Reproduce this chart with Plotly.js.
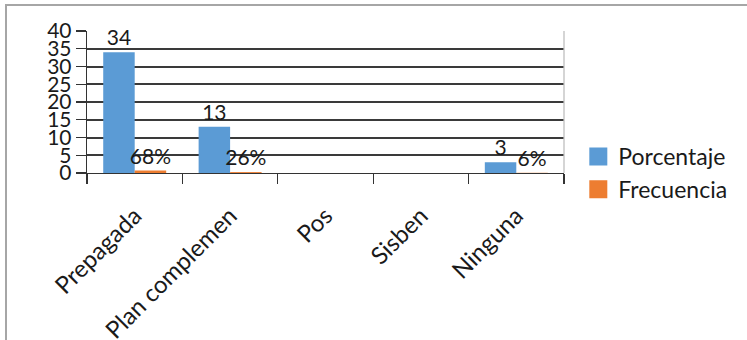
<!DOCTYPE html>
<html>
<head>
<meta charset="utf-8">
<script src="https://cdn.plot.ly/plotly-3.0.1.min.js"></script>
<style>
  html, body { margin: 0; padding: 0; background: #fff; }
  #wrap { position: relative; width: 747px; height: 340px; overflow: hidden; }
  #chart { position: absolute; left: 0; top: 0; width: 747px; height: 340px; }
  #frame {
    position: absolute; left: 5px; top: 4px; right: -4px; bottom: -4px;
    border-top: 2px solid #a6a6a6; border-left: 2px solid #a6a6a6;
    pointer-events: none;
  }
</style>
</head>
<body>
<div id="wrap">
  <div id="chart"></div>
  <div id="frame"></div>
</div>
<script>
// Tipo de afiliación en salud
const categorias = ['Prepagada', 'Plan complemen', 'Pos', 'Sisben', 'Ninguna'];
const porcentaje = [34, 13, 0, 0, 3];
const frecuencia = [0.68, 0.26, 0, 0, 0.06];
const yTicks = [0, 5, 10, 15, 20, 25, 30, 35, 40];

const FONT = 'Lato, "Open Sans", sans-serif';
const INK = '#1a1a1a';

// Empty labels for zero-height bars
const textPorcentaje = porcentaje.map(v => v > 0 ? String(v) : '');
const textFrecuencia = frecuencia.map(v => v > 0 ? Math.round(v * 100) + '%' : '');

const traces = [
  {
    type: 'bar', name: 'Porcentaje', x: categorias, y: porcentaje,
    marker: { color: '#5b9bd5' },
    text: textPorcentaje, textposition: 'outside', textangle: 0,
    constraintext: 'none', cliponaxis: false,
    textfont: { family: FONT, size: 21, color: INK }
  },
  {
    type: 'bar', name: 'Frecuencia', x: categorias, y: frecuencia,
    marker: { color: '#ed7d31' },
    text: textFrecuencia, textposition: 'outside', textangle: 0,
    constraintext: 'none', cliponaxis: false,
    textfont: { family: FONT, size: 21, color: INK }
  }
];

const layout = {
  width: 747, height: 340,
  margin: { l: 87, r: 183, t: 31, b: 167 },
  paper_bgcolor: '#fff', plot_bgcolor: '#fff',
  font: { family: FONT, color: INK },
  barmode: 'group', bargap: 0.34, bargroupgap: 0,
  showlegend: true,
  legend: {
    x: 1.03, xanchor: 'left', y: 0.0, yanchor: 'middle',
    font: { family: FONT, size: 23, color: INK },
    tracegroupgap: 0, itemclick: false
  },
  xaxis: {
    type: 'category', tickangle: -45, tickson: 'boundaries',
    ticks: 'outside', ticklen: 10, tickcolor: '#333', tickwidth: 1.3,
    ticklabelstandoff: 18, ticklabelshift: 0,
    showline: true, linecolor: '#333', linewidth: 1.3,
    showgrid: false,
    tickfont: { family: FONT, size: 24, color: INK }
  },
  yaxis: {
    range: [0, 40], tickvals: yTicks, ticktext: yTicks.map(String),
    ticks: 'outside', ticklen: 10, tickcolor: '#333', tickwidth: 1.3,
    showline: true, linecolor: '#333', linewidth: 1.3,
    showgrid: true, gridcolor: '#3a3a3a', gridwidth: 2,
    zeroline: false,
    tickfont: { family: FONT, size: 21, color: INK }
  },
  shapes: [
    { type: 'line', xref: 'paper', yref: 'paper', x0: 1, x1: 1, y0: 0, y1: 1,
      line: { color: '#bfbfbf', width: 1.3 } }
  ]
};

Plotly.newPlot('chart', traces, layout, { staticPlot: true }).then(gd => {
  // Larger square legend swatches
  gd.querySelectorAll('.legendpoints path').forEach(p => {
    const t = p.getAttribute('transform') || '';
    p.setAttribute('transform', (t + ' scale(1.5)').trim());
  });
});
</script>
</body>
</html>
